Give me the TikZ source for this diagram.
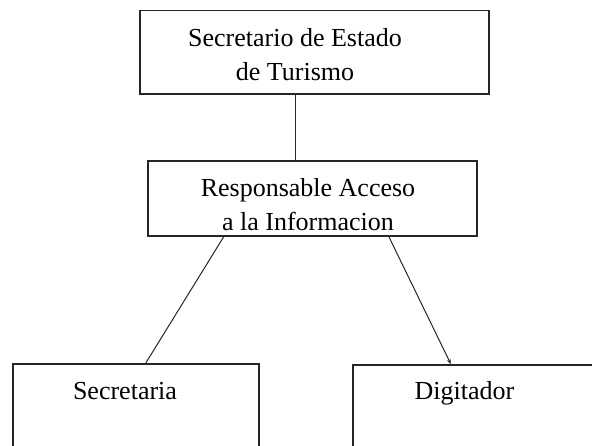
\documentclass[tikz,border=0pt]{standalone}
\usepackage{fontspec}
\setmainfont{Liberation Serif}
\usetikzlibrary{arrows.meta}
\begin{document}
\begin{tikzpicture}[x=1pt,y=-1pt,
  box/.style={draw=black!85, line width=1.6pt, rectangle, inner sep=0pt, anchor=north west},
  lbl/.style={inner sep=0pt, align=center, font=\fontsize{26}{34}\selectfont},
  conn/.style={draw=black!85, line width=1pt}]
\useasboundingbox (0,0) rectangle (592,445);
\clip (0,0) rectangle (592,445);
% boxes
\node[box, minimum width=349pt, minimum height=83.5pt] (sec) at (139,9.5) {};
\node[box, minimum width=329pt, minimum height=75pt] (resp) at (147,160) {};
\node[box, minimum width=246pt, minimum height=110pt] (secy) at (12,363) {};
\node[box, minimum width=246pt, minimum height=110pt] (dig) at (352,364) {};
% labels
\node[lbl] (tsec) at (295,55) {Secretario de Estado\\de Turismo};
\node[lbl] (tresp) at (308,205) {Responsable Acceso\\a la Informacion};
\node[lbl, anchor=base] (tsecy) at (125,399) {Secretaria};
\node[lbl, anchor=base] (tdig) at (464.5,399) {Digitador};
% connectors
\draw[conn] ([xshift=-18.5pt]sec.south) -- ([xshift=-16.5pt]resp.north);
\draw[conn] ([xshift=-88.5pt]resp.south) -- ([xshift=10pt]secy.north);
\draw[conn, -{Stealth[length=5pt,width=4pt]}] ([xshift=76.5pt]resp.south) -- ([xshift=-25pt]dig.north);
\end{tikzpicture}
\end{document}
